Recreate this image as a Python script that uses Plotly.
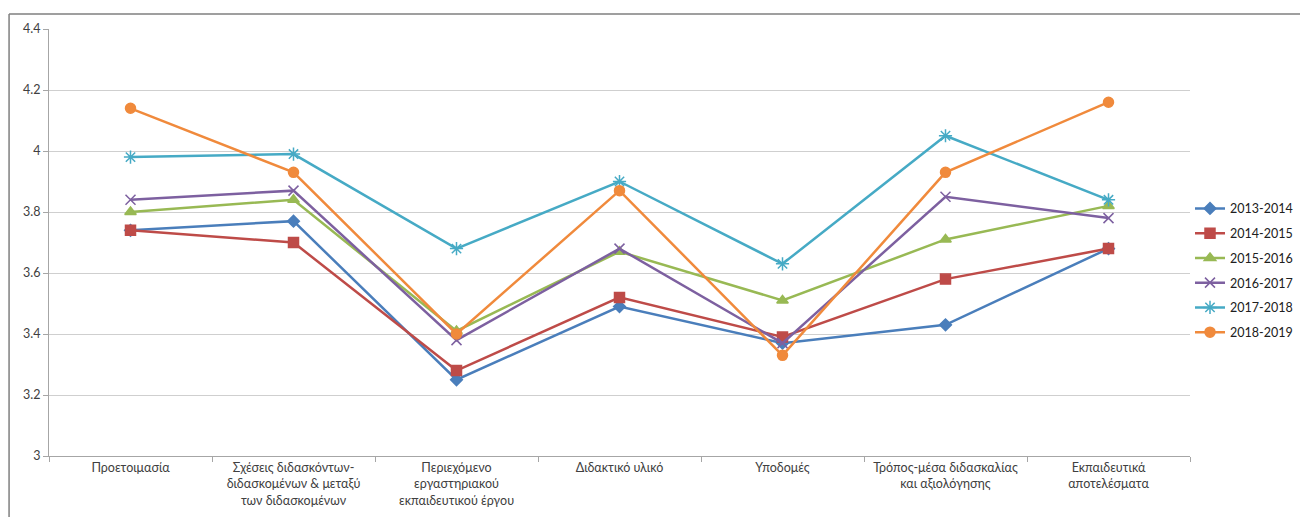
import plotly.graph_objects as go

categories = [
    "Προετοιμασία",
    "Σχέσεις διδασκόντων-<br>διδασκομένων & μεταξύ<br>των διδασκομένων",
    "Περιεχόμενο<br>εργαστηριακού<br>εκπαιδευτικού έργου",
    "Διδακτικό υλικό",
    "Υποδομές",
    "Τρόπος-μέσα διδασκαλίας<br>και αξιολόγησης",
    "Εκπαιδευτικά<br>αποτελέσματα",
]

series_names = ["2013-2014", "2014-2015", "2015-2016", "2016-2017", "2017-2018", "2018-2019"]
v_2013 = [3.74, 3.77, 3.25, 3.49, 3.37, 3.43, 3.68]
v_2014 = [3.74, 3.70, 3.28, 3.52, 3.39, 3.58, 3.68]
v_2015 = [3.80, 3.84, 3.41, 3.67, 3.51, 3.71, 3.82]
v_2016 = [3.84, 3.87, 3.38, 3.68, 3.37, 3.85, 3.78]
v_2017 = [3.98, 3.99, 3.68, 3.90, 3.63, 4.05, 3.84]
v_2018 = [4.14, 3.93, 3.40, 3.87, 3.33, 3.93, 4.16]
series_values = [v_2013, v_2014, v_2015, v_2016, v_2017, v_2018]

y_ticks = [3, 3.2, 3.4, 3.6, 3.8, 4, 4.2, 4.4]

colors = ["#4A7EBB", "#BE4B48", "#98B954", "#7D60A0", "#46AAC5", "#F08A3C"]
symbols = ["diamond", "square", "triangle-up", "x-thin-open", "asterisk-open", "circle"]
sizes = [9, 10, 10, 10, 11, 10]

fig = go.Figure()
for name, vals, c, s, sz in zip(series_names, series_values, colors, symbols, sizes):
    fig.add_trace(go.Scatter(
        x=categories, y=vals, name=name, mode="lines+markers",
        legendgroup=name,
        line=dict(color=c, width=2.5),
        marker=dict(symbol=s, size=sz, color=c, line=dict(color=c, width=1.5)),
    ))

fig.update_layout(
    width=1300, height=509,
    margin=dict(l=41, r=118, t=21, b=61, autoexpand=False),
    paper_bgcolor="white", plot_bgcolor="white",
    font=dict(family="Lato, 'Open Sans', sans-serif", size=12.5, color="#404040"),
    showlegend=True,
    legend=dict(x=1.0, y=0.435, xanchor="left", yanchor="middle",
                font=dict(size=12.5, color="#202020"), tracegroupgap=5.5,
                itemwidth=30),
    xaxis=dict(type="category", showgrid=False, showline=True, linecolor="#a6a6a6",
               linewidth=1, ticks="outside", tickson="boundaries", ticklen=5,
               tickcolor="#a6a6a6", tickfont=dict(size=12.5, color="#404040"),
               range=[-0.5, 6.5]),
    yaxis=dict(range=[3, 4.4], tickvals=y_ticks, ticktext=[f"{t:g}" for t in y_ticks],
               showgrid=True, gridcolor="#cfcfcf", gridwidth=1.3,
               showline=True, linecolor="#a6a6a6", linewidth=1,
               ticks="outside", ticklen=5, tickcolor="#a6a6a6",
               tickfont=dict(size=12.5, color="#404040"), zeroline=False),
    shapes=[
        dict(type="line", xref="paper", yref="paper", x0=-0.035, x1=1.2, y0=1.035, y1=1.035,
             line=dict(color="#7f7f7f", width=1.5)),
        dict(type="line", xref="paper", yref="paper", x0=-0.035, x1=-0.035, y0=1.035, y1=-0.3,
             line=dict(color="#7f7f7f", width=1.5)),
    ],
)

fig.write_html("out.html")
